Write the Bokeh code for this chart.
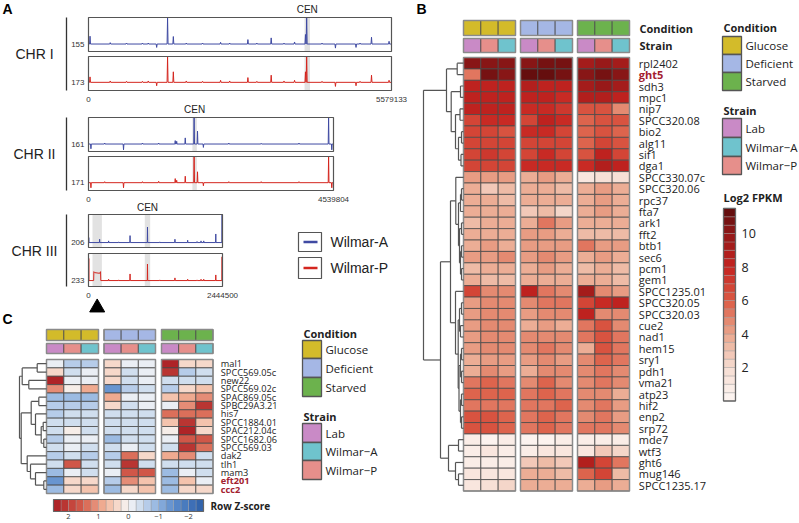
import numpy as np
from bokeh.plotting import figure
from bokeh.models import Range1d, ColumnDataSource
from bokeh.core.properties import value
from bokeh.transform import linear_cmap
from bokeh.embed import file_html
from bokeh.resources import INLINE

# ======================= DATA =======================
# ---- Panel A: coverage tracks (positions in kb, heights as fraction of track box)
chr_names = ["CHR I", "CHR II", "CHR III"]
chr_lengths = [5579133, 4539804, 2444500]
cen_band_kb = [(3978, 4078), (1925, 2007), (1027, 1125)]
dup_band_kb = (73, 244)           # CHR III duplicated region (grey band)
dup_plateau_wp = (98, 220, 0.45)  # Wilmar-P raised coverage
depth_wa = ["155", "161", "206"]
depth_wp = ["173", "171", "233"]
base_wa = [0.22, 0.22, 0.15]
base_wp = [0.24, 0.23, 0.18]

chr1_pos = [28, 400, 700, 993, 1100, 1255, 1456, 1562, 1800, 2100, 2432, 2600, 2935,
            3100, 3364, 3600, 3794, 3995, 4017, 4300, 4547, 4926, 5000, 5211, 5534]
chr1_wa = [0.45, 0.26, 0.25, 0.25, 0.25, 0.12, 1.0, 0.44, 0.25, 0.25, 0.27, 0.25, 0.35,
           0.25, 0.40, 0.25, 0.28, 0.50, 1.0, 0.25, 0.10, 0.12, 0.25, 0.42, 0.30]
chr1_wp = [0.40, 0.28, 0.27, 0.27, 0.28, 0.14, 1.0, 0.55, 0.28, 0.27, 0.30, 0.28, 0.38,
           0.27, 0.45, 0.28, 0.30, 0.55, 1.0, 0.27, 0.12, 0.14, 0.27, 0.45, 0.30]

chr2_pos = [45, 300, 649, 1000, 1300, 1607, 1634, 1793, 1957, 2020, 2129, 2600, 3200, 3900, 4449, 4508]
chr2_wa = [0.08, 0.25, 0.05, 0.25, 0.25, 0.32, 0.30, 0.40, 1.0, 0.60, 0.12, 0.25, 0.24, 0.25, 1.0, 0.05]
chr2_wp = [0.08, 0.26, 0.08, 0.26, 0.27, 0.35, 0.30, 0.42, 1.0, 0.55, 0.14, 0.26, 0.26, 0.26, 1.0, 0.08]

chr3_pos = [5, 203, 367, 550, 758, 1076, 1300, 1577, 1809, 1980, 2053, 2102, 2322, 2437]
chr3_wa = [0.30, 0.25, 0.20, 0.17, 0.36, 0.62, 0.17, 0.25, 0.22, 0.18, 0.20, 0.20, 0.41, 1.0]
chr3_wp = [0.85, 0.26, 0.22, 0.20, 0.38, 0.68, 0.20, 0.26, 0.22, 0.20, 0.22, 0.22, 0.35, 0.90]

track_pos = [chr1_pos, chr2_pos, chr3_pos]
track_wa = [chr1_wa, chr2_wa, chr3_wa]
track_wp = [chr1_wp, chr2_wp, chr3_wp]

# ---- annotation categories
conditions = ["Glucose", "Deficient", "Starved"]
strains = ["Lab", "Wilmar\u2212A", "Wilmar\u2212P"]
strain_cols = ["Lab", "Wilmar\u2212P", "Wilmar\u2212A"]   # column order within each condition
cond_color = {"Glucose": "#d3bb2a", "Deficient": "#a5b7e5", "Starved": "#6cb24d"}
strain_color = {"Lab": "#c98ac6", "Wilmar\u2212A": "#6fc3cd", "Wilmar\u2212P": "#e68f8b"}

# ---- Panel B: log2 FPKM
genes_b = ["rpl2402", "ght5", "sdh3", "mpc1", "nip7", "SPCC320.08", "bio2", "alg11", "sif1", "dga1",
           "SPCC330.07c", "SPCC320.06", "rpc37", "fta7", "ark1", "fft2", "btb1", "sec6", "pcm1", "gem1",
           "SPCC1235.01", "SPCC320.05", "SPCC320.03", "cue2", "nad1", "hem15", "sry1", "pdh1", "vma21",
           "atp23", "hif2", "enp2", "srp72", "mde7", "wtf3", "ght6", "mug146", "SPCC1235.17"]
highlight_b = ["ght5"]
b_glucose = [[10.0, 10.3, 10.3], [5.2, 10.5, 10.0], [8.2, 8.2, 8.0], [8.3, 8.2, 8.1], [8.2, 8.0, 8.0],
             [6.8, 7.6, 7.5], [6.5, 6.5, 6.3], [6.5, 6.8, 6.5], [6.5, 7.0, 6.5], [6.5, 6.8, 6.5],
             [4.3, 4.2, 4.0], [3.5, 2.8, 3.0], [3.8, 3.5, 3.3], [3.5, 3.8, 3.8], [3.3, 3.8, 3.5],
             [3.8, 3.8, 3.8], [3.8, 4.3, 3.8], [4.0, 4.2, 4.5], [3.3, 3.5, 3.5], [3.5, 3.0, 3.3],
             [6.5, 4.8, 4.5], [4.3, 4.5, 4.5], [4.2, 4.8, 4.8], [4.2, 4.5, 4.5], [4.3, 4.6, 4.6],
             [4.3, 4.5, 4.5], [3.8, 4.3, 4.2], [3.8, 4.5, 4.2], [5.0, 5.5, 5.2], [5.5, 5.5, 5.8],
             [5.0, 5.2, 5.0], [6.0, 6.3, 5.5], [6.0, 6.0, 5.5], [0.5, 0.4, 0.5], [0.7, 1.2, 0.8],
             [0.6, 0.5, 0.6], [1.2, 1.0, 1.2], [1.0, 1.8, 2.0]]
b_deficient = [[10.3, 10.5, 10.5], [11.3, 11.3, 10.8], [8.5, 8.2, 8.3], [8.2, 8.1, 7.8], [7.6, 7.6, 7.0],
               [6.8, 8.0, 7.6], [7.5, 7.5, 6.8], [6.5, 6.8, 6.5], [6.5, 7.8, 6.8], [7.8, 7.5, 7.5],
               [3.8, 4.0, 3.8], [3.5, 3.5, 3.2], [3.8, 3.8, 3.5], [2.8, 3.3, 2.3], [3.8, 5.0, 4.3],
               [4.0, 4.3, 3.8], [4.0, 4.3, 4.0], [4.2, 4.5, 4.2], [3.8, 4.0, 3.8], [3.5, 3.8, 3.5],
               [8.3, 5.2, 4.7], [4.5, 5.0, 5.2], [4.3, 4.7, 4.5], [3.8, 4.2, 3.8], [4.8, 4.8, 4.8],
               [4.5, 5.2, 4.8], [4.3, 4.8, 4.3], [3.5, 4.8, 4.5], [4.8, 5.5, 4.8], [5.0, 5.5, 5.0],
               [5.0, 5.2, 5.6], [5.0, 5.5, 5.0], [5.2, 5.5, 5.2], [0.3, 0.4, 0.5], [0.7, 1.0, 1.0],
               [2.5, 3.0, 2.8], [3.8, 3.5, 3.3], [3.8, 3.8, 3.8]]
b_starved = [[9.0, 9.5, 9.0], [10.0, 10.5, 10.2], [9.0, 9.5, 9.3], [8.8, 8.8, 8.3], [6.0, 6.0, 4.8],
             [5.5, 6.3, 6.0], [5.5, 6.2, 5.8], [5.8, 6.5, 6.0], [6.0, 8.0, 6.8], [7.8, 8.5, 8.3],
             [1.2, 1.8, 1.5], [3.8, 4.3, 3.5], [3.8, 4.3, 3.8], [3.8, 4.0, 3.5], [3.5, 3.8, 3.8],
             [3.0, 3.2, 3.3], [5.0, 4.0, 4.0], [3.8, 4.3, 3.8], [3.0, 3.5, 3.3], [3.5, 3.5, 3.3],
             [9.0, 4.7, 4.3], [6.8, 7.8, 8.0], [8.0, 4.8, 4.7], [5.2, 6.0, 4.8], [5.2, 6.0, 5.2],
             [3.5, 6.0, 5.3], [4.5, 5.5, 5.0], [4.5, 5.3, 4.8], [4.5, 5.0, 4.5], [4.5, 4.8, 3.8],
             [4.8, 5.0, 4.3], [4.5, 5.0, 4.3], [5.0, 5.0, 4.5], [0.5, 0.6, 0.5], [1.0, 2.5, 2.0],
             [8.5, 6.5, 5.0], [5.5, 6.5, 3.3], [3.8, 4.0, 3.8]]
# dendrogram (height, left, right); leaves are row indices
tree_b = (40,
          (17, (6.3, 0, 1), (12.3, (3, 2, 3), (8, (3.5, 4, 5), (5, (2, 6, 7), (2.5, 8, 9))))),
          (23,
           (13,
            (7.7, 10, (5, (3, (2, 11, 12), 13), (4, (2, 14, 15), (3, (2, 16, 17), (2, 18, 19))))),
            (8, 20, (5.3, (4, (2, 21, 22), (3, 23, 24)),
                     (4.5, (3, (2, 25, 26), (2, 27, 28)), (3, (2, 29, 30), (2, 31, 32)))))),
           (15, (5, 33, 34), (8, 35, (5, 36, 37)))))
fpkm_ticks = [2, 4, 6, 8, 10]

# ---- Panel C: row Z-scores
genes_c = ["mal1", "SPCC569.05c", "new22", "SPCC569.02c", "SPAC869.05c", "SPBC29A3.21", "his7",
           "SPCC1884.01", "SPAC212.04c", "SPCC1682.06", "SPCC569.03", "dak2", "tlh1", "mam3",
           "eft201", "ccc2"]
highlight_c = ["eft201", "ccc2"]
c_glucose = [[-0.2, -0.6, -0.6], [0.3, -0.5, -0.1], [2.4, -0.2, -0.2], [1.0, 0.1, 0.9], [-0.8, -0.8, -0.8],
             [-0.6, -0.6, -0.6], [-0.6, -0.5, -0.5], [-0.5, -0.4, -0.4], [-0.5, 0.1, -0.3], [-0.6, -0.2, -0.2],
             [-0.4, -0.2, -0.3], [-0.6, -0.5, -0.7], [-0.4, 1.6, -0.5], [-0.8, -0.2, -0.3], [-1.5, 0.3, 0.4],
             [-0.9, 0.4, 0.7]]
c_deficient = [[0.3, -0.2, -0.1], [0.4, -0.5, -0.2], [0.3, -0.3, -0.2], [-1.4, -0.6, -0.4], [0.9, -0.1, -0.2],
               [0.4, -0.4, -0.2], [-0.5, -0.4, -0.4], [-0.5, -0.3, -0.5], [-0.5, -0.3, -0.3], [-0.9, -0.3, -0.3],
               [-0.4, -0.2, -0.3], [-0.6, 1.3, 0.3], [-0.5, 2.0, -0.4], [-0.1, 1.6, 1.6], [-0.7, 1.0, 0.7],
               [-0.8, 0.4, 0.5]]
c_starved = [[2.3, 0.4, 0.3], [2.2, -0.7, -0.3], [-0.3, -0.5, -0.5], [-0.7, 0.4, 0.5], [0.6, 0.9, 1.1],
             [-0.1, 1.1, 2.0], [1.4, 1.3, 1.4], [0.6, 2.0, 0.6], [0.0, 2.5, 0.3], [-0.1, 1.7, 1.5],
             [-0.3, 2.1, 1.3], [0.8, 1.0, -0.4], [-0.5, -0.5, -0.4], [-0.8, -0.1, -0.3], [-0.9, 0.5, -0.2],
             [-0.8, 0.3, 0.3]]
tree_c = (27,
          (24.3, (9.3, 0, 1), (17.7, 2, 3)),
          (25.3,
           (15.3, (7.7, 4, 5), (11, 6, (5.3, (3.3, 7, 8), (2.7, 9, 10)))),
           (19.3, 11, (16, 12, (11, 13, (2.7, 14, 15))))))
z_ticks = [2, 1, 0, -1, -2]

# ======================= STYLE =======================
SANS = value("Open Sans")
ARIAL = value("Liberation Sans")
BLUE = "#3f4aa2"
RED = "#d4261f"


def ramp(anchors, n, lo, hi):
    pos = np.array([a[0] for a in anchors], dtype=float)
    rgb = np.array([[int(h[i:i + 2], 16) for i in (1, 3, 5)] for _, h in anchors], dtype=float)
    centers = lo + (np.arange(n) + 0.5) * (hi - lo) / n
    out = []
    for c in centers:
        col = [int(round(np.interp(c, pos, rgb[:, k]))) for k in range(3)]
        out.append("#%02x%02x%02x" % tuple(col))
    return out


pal_b = ramp([(0, "#fdf6f3"), (2, "#f6ddd2"), (4, "#eaa68c"), (6, "#db5a44"), (8, "#c52320"),
              (10, "#911818"), (11.5, "#5c0c0c")], 23, 0, 11.5)
pal_c = ramp([(-2.5, "#2c5ea8"), (-1.5, "#5b8ccc"), (-0.75, "#a9c4e6"), (0, "#f7f7f7"),
              (0.75, "#f4b99e"), (1.5, "#d6604d"), (2.5, "#a81b22")], 20, -2.5, 2.5)

W, H = 799, 523
p = figure(width=W, height=H, x_range=Range1d(0, W), y_range=Range1d(H, 0),
           output_backend="svg", toolbar_location=None, x_axis_type=None, y_axis_type=None,
           min_border=0)
p.outline_line_color = None
p.background_fill_color = "white"


def sub(xs, ys, xt, yt):
    return p.subplot(x_source=Range1d(*xs), y_source=Range1d(*ys),
                     x_target=Range1d(*xt), y_target=Range1d(*yt))


def label(x, y, t, size, bold=False, color="#222222", font=SANS, align="left", baseline="middle"):
    p.text(x=[x], y=[y], text=[t], text_font=font, text_font_size=f"{size}px",
           text_font_style="bold" if bold else "normal", text_color=color,
           text_align=align, text_baseline=baseline)


# ======================= PANEL A =======================
label(2, 8, "A", 14, bold=True, color="black", font=ARIAL)
a_x = [(88, 391), (88, 333), (88, 222)]
a_wa_y = [(51, 17), (151, 117), (247, 214)]
a_wp_y = [(90, 56), (190, 156), (286, 253)]
cen_dy = [-8, -8.5, -7]


def track_line(base, pos, hts, L, plateau=None):
    d = L * 0.0016
    pts = [(0, base)]
    for ps, h in sorted(zip(pos, hts)):
        ps = ps * 1000
        if plateau and plateau[0] * 1000 <= ps <= plateau[1] * 1000:
            continue
        pts += [(ps - d, base), (ps, h), (ps + d, base)]
    if plateau:
        a0, a1, ph = plateau[0] * 1000, plateau[1] * 1000, plateau[2]
        pts += [(a0 - d, base), (a0, ph), (a0 + 4 * d, ph - 0.03), (a1 - 4 * d, ph - 0.05), (a1, ph), (a1 + d, base)]
        pts.sort()
    pts.append((L, base))
    return [q[0] for q in pts], [q[1] for q in pts]


for i, L in enumerate(chr_lengths):
    for kind in ("wa", "wp"):
        yt = a_wa_y[i] if kind == "wa" else a_wp_y[i]
        s = sub((0, L), (0, 1), a_x[i], yt)
        c0, c1 = cen_band_kb[i]
        s.quad(left=[c0 * 1000], right=[c1 * 1000], bottom=[0], top=[1], fill_color="#e2e2e2", line_color=None)
        if i == 2:
            s.quad(left=[dup_band_kb[0] * 1000], right=[dup_band_kb[1] * 1000], bottom=[0], top=[1],
                   fill_color="#e2e2e2", line_color=None)
        if kind == "wa":
            xs, ys = track_line(base_wa[i], track_pos[i], track_wa[i], L)
            s.line(xs, ys, line_color=BLUE, line_width=1)
            s.text(x=[0], y=[base_wa[i]], text=[depth_wa[i]], x_offset=-4, text_align="right",
                   text_baseline="middle", text_font=ARIAL, text_font_size="8px", text_color="#333333")
            s.text(x=[(c0 + c1) * 500], y=[1], text=["CEN"], y_offset=cen_dy[i], text_align="center",
                   text_baseline="middle", text_font=ARIAL, text_font_size="10px", text_color="#222222")
        else:
            xs, ys = track_line(base_wp[i], track_pos[i], track_wp[i], L,
                                dup_plateau_wp if i == 2 else None)
            s.line(xs, ys, line_color=RED, line_width=1)
            s.text(x=[0], y=[base_wp[i]], text=[depth_wp[i]], x_offset=-4, text_align="right",
                   text_baseline="middle", text_font=ARIAL, text_font_size="8px", text_color="#333333")
            s.text(x=[0, L], y=[0, 0], text=["0", f"{L}"], y_offset=9, text_align="center",
                   text_baseline="middle", text_font=ARIAL, text_font_size="8px", text_color="#333333")
            if i == 2:
                s.scatter(x=[(dup_band_kb[0] + dup_band_kb[1]) * 500], y=[-0.64], marker="triangle",
                          size=15, fill_color="black", line_color="black")
        s.quad(left=[0], right=[L], bottom=[0], top=[1], fill_color=None, line_color="#555555", line_width=1.2)
    top = a_wa_y[i][1]
    bot = a_wp_y[i][0]
    p.segment(x0=[66], y0=[top], x1=[66], y1=[bot], line_color="#333333", line_width=1.3)
    label(34, (top + bot) / 2, chr_names[i], 14, color="#222222", font=ARIAL, align="center")

# legend A
for k, (nm, col) in enumerate([("Wilmar-A", BLUE), ("Wilmar-P", RED)]):
    y0, y1 = [(232, 251), (257, 278)][k]
    p.quad(left=[298], right=[321], top=[y0], bottom=[y1], fill_color="white", line_color="#555555", line_width=1.2)
    p.segment(x0=[303], y0=[(y0 + y1) / 2], x1=[317], y1=[(y0 + y1) / 2], line_color=col, line_width=2.5)
    label(330, (y0 + y1) / 2, nm, 14, color="#222222", font=ARIAL)


# ======================= HEATMAP helper =======================
def tree_segments(t, segs):
    if isinstance(t, int):
        return t + 0.5, 0.0
    h, a, b = t
    ya, ha = tree_segments(a, segs)
    yb, hb = tree_segments(b, segs)
    segs.append((ha, ya, h, ya))
    segs.append((hb, yb, h, yb))
    segs.append((h, ya, h, yb))
    return (ya + yb) / 2, h


def heatmap(groups_vals, genes, highlight, group_x, rows_y, cond_y, strain_y, pal, lo, hi,
            tree, dendro_x, gene_size, annot_labels=False, annot_size=11):
    n = len(genes)
    mapper = linear_cmap("v", pal, lo, hi)
    for g, vals in enumerate(groups_vals):
        l, r, t, b, v = [], [], [], [], []
        for ri, rowvals in enumerate(vals):
            for ci, val in enumerate(rowvals):
                l.append(ci); r.append(ci + 1); t.append(ri); b.append(ri + 1); v.append(val)
        s = sub((0, 3), (0, n), group_x[g], rows_y)
        s.quad(left="l", right="r", top="t", bottom="b", source=ColumnDataSource(dict(l=l, r=r, t=t, b=b, v=v)),
               fill_color=mapper, line_color="#4a4a4a", line_width=0.8)
        s.quad(left=[0], right=[3], top=[0], bottom=[n], fill_color=None, line_color="#8a8a8a", line_width=1.5)
        # annotation bars
        sc = sub((0, 3), (0, 1), group_x[g], cond_y)
        sc.quad(left=[0, 1, 2], right=[1, 2, 3], top=[0] * 3, bottom=[1] * 3,
                fill_color=[cond_color[conditions[g]]] * 3, line_color="#4a4a4a", line_width=0.8)
        sc.quad(left=[0], right=[3], top=[0], bottom=[1], fill_color=None, line_color="#8a8a8a", line_width=1.5)
        ss = sub((0, 3), (0, 1), group_x[g], strain_y)
        ss.quad(left=[0, 1, 2], right=[1, 2, 3], top=[0] * 3, bottom=[1] * 3,
                fill_color=[strain_color[k] for k in strain_cols], line_color="#4a4a4a", line_width=0.8)
        ss.quad(left=[0], right=[3], top=[0], bottom=[1], fill_color=None, line_color="#8a8a8a", line_width=1.5)
        if g == 2:
            colors = ["#a3212f" if gname in highlight else "#222222" for gname in genes]
            styles = ["bold" if gname in highlight else "normal" for gname in genes]
            s.text(x=[3] * n, y=[i + 0.5 for i in range(n)], text=genes, x_offset=gene_size * 0.85,
                   text_color=colors, text_font_style=styles,
                   text_font=SANS, text_font_size=f"{gene_size}px", text_baseline="middle", text_align="left")
            if annot_labels:
                sc.text(x=[3], y=[0.5], text=["Condition"], x_offset=10, text_font=SANS, text_font_style="bold",
                        text_font_size=f"{annot_size}px", text_baseline="middle", text_color="#222222")
                ss.text(x=[3], y=[0.5], text=["Strain"], x_offset=10, text_font=SANS, text_font_style="bold",
                        text_font_size=f"{annot_size}px", text_baseline="middle", text_color="#222222")
    segs = []
    _, hmax = tree_segments(tree, segs)
    sd = sub((hmax, 0), (0, n), dendro_x, rows_y)
    sd.segment(x0=[q[0] for q in segs], y0=[q[1] for q in segs], x1=[q[2] for q in segs],
               y1=[q[3] for q in segs], line_color="#555555", line_width=1.2)


def legend_block(x, y_title, cond_boxes, y_title2, strain_boxes, title_size, text_size):
    label(x + 1, y_title, "Condition", title_size, bold=True)
    for nm, (y0, y1) in zip(conditions, cond_boxes):
        p.quad(left=[x], right=[x + 19], top=[y0], bottom=[y1], fill_color=cond_color[nm],
               line_color="#555555", line_width=1.3)
        label(x + 23, (y0 + y1) / 2, nm, text_size)
    label(x + 1, y_title2, "Strain", title_size, bold=True)
    for nm, (y0, y1) in zip(strains, strain_boxes):
        p.quad(left=[x], right=[x + 19], top=[y0], bottom=[y1], fill_color=strain_color[nm],
               line_color="#555555", line_width=1.3)
        label(x + 23, (y0 + y1) / 2, nm, text_size)


# ======================= PANEL B =======================
label(416, 8, "B", 14, bold=True, color="black", font=ARIAL)
heatmap([b_glucose, b_deficient, b_starved], genes_b, highlight_b,
        [(463, 515), (520, 572), (577, 629)], (57, 490.5), (20, 35), (38, 52),
        pal_b, 0, 11.5, tree_b, (423, 463), 11, annot_labels=True, annot_size=11)
legend_block(722, 27, [(36, 54), (54, 72), (72, 90)], 110, [(118, 137), (137, 156), (156, 174)], 11, 11.5)
label(723, 197, "Log2 FPKM", 11, bold=True)
sb = sub((0, 1), (0, 11.5), (723, 735), (400.5, 207.9))
sb.quad(left=[0] * 23, right=[1] * 23, bottom=[k * 0.5 for k in range(23)], top=[(k + 1) * 0.5 for k in range(23)],
        fill_color=pal_b, line_color="#9a9a9a", line_width=0.4)
sb.quad(left=[0], right=[1], bottom=[0], top=[11.5], fill_color=None, line_color="#666666", line_width=1.3)
sb.text(x=[1] * len(fpkm_ticks), y=fpkm_ticks, text=[str(t) for t in fpkm_ticks], x_offset=6,
        text_font=SANS, text_font_size="12.5px", text_baseline="middle", text_color="#222222")

# ======================= PANEL C =======================
label(2, 318, "C", 14, bold=True, color="black", font=ARIAL)
heatmap([c_glucose, c_deficient, c_starved], genes_c, highlight_c,
        [(46, 98), (103.5, 155), (161, 212.5)], (359, 493), (329, 340), (343, 353),
        pal_c, -2.5, 2.5, tree_c, (19, 46), 9.2)
legend_block(302, 333, [(340, 358), (358, 377), (377, 396)], 416, [(423, 442), (442, 460), (460, 479)], 11, 11.5)
sz = sub((2.5, -2.5), (0, 1), (53, 203), (511, 499))
cb_l = [-2.5 + k * 0.25 for k in range(20)]
sz.quad(left=cb_l, right=[v + 0.25 for v in cb_l], bottom=[0] * 20, top=[1] * 20,
        fill_color=pal_c, line_color="#9a9a9a", line_width=0.4)
sz.quad(left=[-2.5], right=[2.5], bottom=[0], top=[1], fill_color=None, line_color="#666666", line_width=1.2)
sz.text(x=z_ticks, y=[0] * len(z_ticks), text=[str(t).replace("-", "\u2212") for t in z_ticks], y_offset=2,
        text_align="center", text_baseline="top", text_font=SANS, text_font_size="7.5px", text_color="#333333")
sz.text(x=[-2.5], y=[0.5], text=["Row Z-score"], x_offset=7, text_baseline="middle", text_font=SANS,
        text_font_style="bold", text_font_size="10px", text_color="#222222")

open("out.html", "w").write(file_html(p, INLINE))
